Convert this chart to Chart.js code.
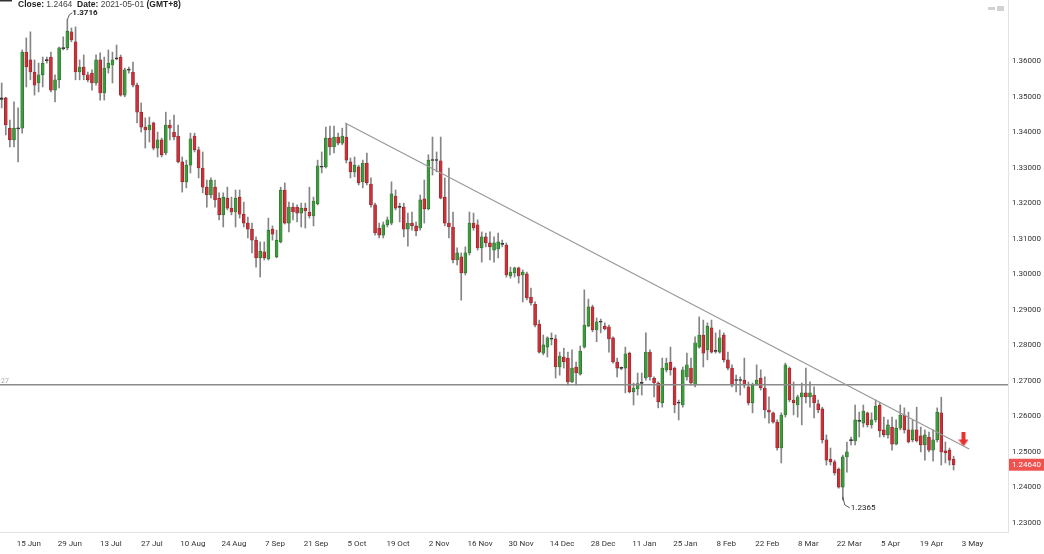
<!DOCTYPE html>
<html>
<head>
<meta charset="utf-8">
<script src="https://cdn.jsdelivr.net/npm/chart.js@4.4.1/dist/chart.umd.min.js"></script>
<style>
  html, body { margin: 0; padding: 0; background: #fff; }
  #wrap { width: 1044px; height: 554px; }
</style>
</head>
<body>
<div id="wrap"><canvas id="chart" width="1044" height="554"></canvas></div>
<script>
/* ===== Daily candles, one per trading day (index 0 = first candle on the left) ===== */
const opens = [
  1.3492,1.3496,1.3411,1.3378,1.3409,1.3411,1.3625,1.3603,1.3569,1.3538,
  1.3561,1.3601,1.3611,1.3518,1.3547,1.3635,1.3637,1.3682,1.3654,1.3569,
  1.3583,1.3561,1.3566,1.3538,1.3603,1.3510,1.3580,1.3589,1.3606,1.3611,
  1.3504,1.3574,1.3569,1.3532,1.3456,1.3414,1.3406,1.3426,1.3355,1.3378,
  1.3341,1.3420,1.3400,1.3389,1.3316,1.3260,1.3307,1.3389,1.3350,1.3299,
  1.3245,1.3223,1.3245,1.3214,1.3167,1.3214,1.3186,1.3175,1.3217,1.3169,
  1.3144,1.3127,1.3096,1.3046,1.3063,1.3043,1.3127,1.3049,1.3091,1.3237,
  1.3144,1.3189,1.3189,1.3172,1.3186,1.3175,1.3164,1.3198,1.3301,1.3302,
  1.3383,1.3358,1.3386,1.3369,1.3386,1.3316,1.3288,1.3302,1.3260,1.3313,
  1.3254,1.3195,1.3130,1.3110,1.3139,1.3144,1.3220,1.3190,1.3189,1.3127,
  1.3144,1.3136,1.3130,1.3212,1.3184,1.3320,1.3322,1.3319,1.3217,1.3144,
  1.3133,1.3040,1.3049,1.3004,1.3060,1.3144,1.3139,1.3074,1.3105,1.3088,
  1.3068,1.3071,1.3086,1.3082,1.2995,1.3004,1.3018,1.2998,1.3001,1.2936,
  1.2916,1.2860,1.2778,1.2795,1.2817,1.2818,1.2739,1.2767,1.2764,1.2697,
  1.2739,1.2719,1.2795,1.2854,1.2908,1.2843,1.2865,1.2854,1.2852,1.2821,
  1.2753,1.2737,1.2736,1.2778,1.2669,1.2677,1.2693,1.2708,1.2781,1.2708,
  1.2694,1.2638,1.2731,1.2753,1.2736,1.2637,1.2632,1.2711,1.2736,1.2688,
  1.2795,1.2829,1.2787,1.2849,1.2783,1.2781,1.2829,1.2759,1.2736,1.2701,
  1.2703,1.2702,1.2683,1.2638,1.2688,1.2708,1.2680,1.2618,1.2610,1.2584,
  1.2511,1.2604,1.2736,1.2646,1.2632,1.2655,1.2666,1.2655,1.2660,1.2635,
  1.2621,1.2534,1.2480,1.2472,1.2452,1.2401,1.2486,1.2532,1.2531,1.2588,
  1.2581,1.2610,1.2576,1.2590,1.2632,1.2562,1.2548,1.2570,1.2522,1.2567,
  1.2604,1.2562,1.2534,1.2562,1.2545,1.2520,1.2542,1.2505,1.2534,1.2610,
  1.2503,1.2505,1.2480
];
const highs = [
  1.3538,1.3498,1.3434,1.3485,1.3468,1.3631,1.3665,1.3682,1.3603,1.3594,
  1.3611,1.3611,1.3625,1.3561,1.3639,1.3668,1.3716,1.3693,1.3696,1.3603,
  1.3617,1.3569,1.3575,1.3617,1.3623,1.3611,1.3631,1.3625,1.3645,1.3617,
  1.3580,1.3583,1.3597,1.3538,1.3482,1.3440,1.3442,1.3428,1.3400,1.3383,
  1.3456,1.3434,1.3448,1.3420,1.3330,1.3321,1.3397,1.3397,1.3358,1.3344,
  1.3265,1.3271,1.3265,1.3229,1.3229,1.3245,1.3217,1.3237,1.3237,1.3203,
  1.3161,1.3144,1.3105,1.3091,1.3091,1.3158,1.3136,1.3124,1.3245,1.3257,
  1.3203,1.3200,1.3195,1.3200,1.3200,1.3245,1.3217,1.3321,1.3344,1.3414,
  1.3417,1.3417,1.3397,1.3411,1.3423,1.3327,1.3330,1.3307,1.3321,1.3341,
  1.3271,1.3200,1.3144,1.3147,1.3161,1.3260,1.3237,1.3200,1.3200,1.3172,
  1.3175,1.3147,1.3223,1.3265,1.3336,1.3386,1.3344,1.3386,1.3271,1.3299,
  1.3175,1.3074,1.3060,1.3077,1.3175,1.3172,1.3153,1.3119,1.3116,1.3119,
  1.3105,1.3116,1.3096,1.3088,1.3020,1.3020,1.3020,1.3012,1.3006,1.2961,
  1.2922,1.2871,1.2829,1.2824,1.2835,1.2829,1.2781,1.2792,1.2781,1.2787,
  1.2753,1.2798,1.2956,1.2930,1.2913,1.2877,1.2874,1.2863,1.2857,1.2824,
  1.2764,1.2739,1.2795,1.2781,1.2694,1.2722,1.2722,1.2835,1.2787,1.2711,
  1.2697,1.2764,1.2764,1.2795,1.2739,1.2646,1.2739,1.2778,1.2764,1.2824,
  1.2880,1.2871,1.2863,1.2871,1.2835,1.2843,1.2835,1.2781,1.2745,1.2716,
  1.2711,1.2764,1.2697,1.2694,1.2745,1.2731,1.2711,1.2655,1.2612,1.2590,
  1.2610,1.2750,1.2739,1.2697,1.2660,1.2694,1.2736,1.2697,1.2683,1.2646,
  1.2626,1.2548,1.2511,1.2477,1.2455,1.2491,1.2528,1.2542,1.2632,1.2612,
  1.2632,1.2612,1.2610,1.2646,1.2640,1.2598,1.2590,1.2598,1.2590,1.2632,
  1.2624,1.2612,1.2590,1.2626,1.2570,1.2562,1.2556,1.2562,1.2624,1.2654,
  1.2528,1.2511,1.2488
];
const lows = [
  1.3468,1.3392,1.3358,1.3358,1.3316,1.3397,1.3527,1.3547,1.3504,1.3513,
  1.3527,1.3594,1.3513,1.3485,1.3524,1.3631,1.3631,1.3654,1.3547,1.3547,
  1.3547,1.3541,1.3518,1.3532,1.3490,1.3490,1.3566,1.3538,1.3603,1.3501,
  1.3499,1.3566,1.3527,1.3426,1.3400,1.3355,1.3372,1.3350,1.3330,1.3330,
  1.3336,1.3378,1.3378,1.3313,1.3231,1.3243,1.3285,1.3344,1.3271,1.3229,
  1.3189,1.3215,1.3189,1.3153,1.3133,1.3181,1.3167,1.3133,1.3158,1.3133,
  1.3102,1.3060,1.3020,1.2992,1.3040,1.3040,1.3096,1.3046,1.3088,1.3141,
  1.3119,1.3153,1.3147,1.3133,1.3130,1.3158,1.3136,1.3195,1.3285,1.3299,
  1.3336,1.3341,1.3364,1.3364,1.3313,1.3271,1.3274,1.3251,1.3243,1.3251,
  1.3189,1.3110,1.3102,1.3102,1.3133,1.3139,1.3181,1.3147,1.3105,1.3079,
  1.3124,1.3108,1.3124,1.3144,1.3181,1.3279,1.3288,1.3212,1.3136,1.3102,
  1.3032,1.3026,1.2927,1.2998,1.3054,1.3124,1.3068,1.3034,1.3077,1.3040,
  1.3034,1.3046,1.3077,1.2992,1.2989,1.2992,1.2975,1.2922,1.2928,1.2913,
  1.2852,1.2778,1.2773,1.2767,1.2801,1.2708,1.2716,1.2736,1.2688,1.2695,
  1.2688,1.2716,1.2792,1.2852,1.2838,1.2810,1.2835,1.2843,1.2781,1.2750,
  1.2711,1.2731,1.2666,1.2666,1.2632,1.2660,1.2660,1.2702,1.2702,1.2655,
  1.2624,1.2626,1.2725,1.2716,1.2610,1.2590,1.2626,1.2702,1.2688,1.2683,
  1.2792,1.2739,1.2759,1.2778,1.2778,1.2778,1.2753,1.2731,1.2683,1.2669,
  1.2660,1.2680,1.2632,1.2610,1.2688,1.2674,1.2596,1.2581,1.2581,1.2505,
  1.2469,1.2598,1.2641,1.2604,1.2598,1.2576,1.2638,1.2626,1.2596,1.2610,
  1.2525,1.2463,1.2463,1.2435,1.2398,1.2365,1.2443,1.2520,1.2520,1.2542,
  1.2570,1.2570,1.2567,1.2584,1.2542,1.2542,1.2539,1.2505,1.2520,1.2562,
  1.2553,1.2525,1.2528,1.2528,1.2500,1.2477,1.2500,1.2474,1.2528,1.2463,
  1.2469,1.2463,1.2449
];
const closes = [
  1.3496,1.3420,1.3378,1.3411,1.3412,1.3625,1.3583,1.3569,1.3532,1.3561,
  1.3594,1.3603,1.3518,1.3547,1.3637,1.3637,1.3684,1.3659,1.3569,1.3583,
  1.3561,1.3547,1.3538,1.3603,1.3510,1.3580,1.3594,1.3603,1.3608,1.3504,
  1.3575,1.3576,1.3532,1.3456,1.3414,1.3406,1.3420,1.3355,1.3378,1.3336,
  1.3420,1.3411,1.3386,1.3316,1.3260,1.3307,1.3381,1.3350,1.3299,1.3245,
  1.3223,1.3265,1.3209,1.3167,1.3217,1.3186,1.3175,1.3214,1.3169,1.3144,
  1.3127,1.3096,1.3046,1.3065,1.3046,1.3124,1.3113,1.3096,1.3237,1.3144,
  1.3189,1.3175,1.3172,1.3186,1.3178,1.3164,1.3206,1.3305,1.3303,1.3383,
  1.3358,1.3386,1.3369,1.3389,1.3321,1.3288,1.3307,1.3257,1.3313,1.3257,
  1.3195,1.3116,1.3110,1.3139,1.3153,1.3226,1.3186,1.3188,1.3127,1.3144,
  1.3136,1.3122,1.3209,1.3184,1.3321,1.3322,1.3320,1.3214,1.3144,1.3133,
  1.3040,1.3060,1.3004,1.3060,1.3144,1.3130,1.3074,1.3105,1.3088,1.3077,
  1.3088,1.3091,1.3084,1.2998,1.3006,1.3018,1.2995,1.3006,1.2933,1.2919,
  1.2857,1.2781,1.2801,1.2821,1.2819,1.2739,1.2770,1.2753,1.2697,1.2736,
  1.2722,1.2784,1.2857,1.2908,1.2843,1.2866,1.2867,1.2846,1.2818,1.2753,
  1.2736,1.2735,1.2776,1.2669,1.2680,1.2692,1.2695,1.2781,1.2711,1.2694,
  1.2641,1.2736,1.2750,1.2731,1.2632,1.2639,1.2731,1.2745,1.2694,1.2807,
  1.2829,1.2778,1.2854,1.2781,1.2785,1.2821,1.2759,1.2736,1.2688,1.2703,
  1.2701,1.2688,1.2638,1.2688,1.2702,1.2680,1.2618,1.2612,1.2584,1.2511,
  1.2604,1.2745,1.2646,1.2638,1.2655,1.2666,1.2655,1.2666,1.2638,1.2618,
  1.2534,1.2477,1.2472,1.2441,1.2401,1.2486,1.2500,1.2534,1.2590,1.2586,
  1.2615,1.2576,1.2590,1.2629,1.2559,1.2548,1.2576,1.2522,1.2567,1.2604,
  1.2562,1.2528,1.2562,1.2531,1.2520,1.2548,1.2505,1.2534,1.2612,1.2500,
  1.2497,1.2477,1.2464
];

/* ===== Axes ===== */
const dateLabels = ["15 Jun","29 Jun","13 Jul","27 Jul","10 Aug","24 Aug","7 Sep","21 Sep",
  "5 Oct","19 Oct","2 Nov","16 Nov","30 Nov","14 Dec","28 Dec","11 Jan","25 Jan","8 Feb",
  "22 Feb","8 Mar","22 Mar","5 Apr","19 Apr","3 May"];
const dateTickIndex = [6.6,16.6,26.6,36.6,46.6,56.6,66.6,76.6,86.6,96.6,106.6,116.6,
  126.6,136.6,146.6,156.6,166.6,176.6,186.6,196.6,206.6,216.6,226.6,236.6];
const priceTicks = [1.23,1.24,1.25,1.26,1.27,1.28,1.29,1.30,1.31,1.32,1.33,1.34,1.35,1.36];

const X_MIN = -0.41, X_MAX = 245.26;
const Y_MIN = 1.22747, Y_MAX = 1.37716;

/* ===== Drawings ===== */
const levelPrice = 1.2689;
const trendLine = [{ x: 83.7, y: 1.34255 }, { x: 235.8, y: 1.25083 }];
const signalArrow = [{ x: 234.4, y: 1.2535 }];
const headerClose = "1.2464";
const headerDate = "2021-05-01";

const GREEN = "#3d9a3d", GREEN_EDGE = "#2a6b2a";
const RED = "#c9323a", RED_EDGE = "#8c1f24";
const DOJI = "#3a3a3a";

const isDoji = i => Math.abs(closes[i] - opens[i]) < 0.0004;
const bodies = opens.map((o, i) => ({ x: i, y: [Math.min(o, closes[i]), Math.max(o, closes[i])] }));
const wicks = opens.map((o, i) => ({ x: i, y: [lows[i], highs[i]] }));
const bodyFill = opens.map((o, i) => isDoji(i) ? DOJI : closes[i] >= o ? GREEN : RED);
const bodyEdge = opens.map((o, i) => isDoji(i) ? "#222" : closes[i] >= o ? GREEN_EDGE : RED_EDGE);

/* red down arrow used as point style */
const arrowImg = document.createElement("canvas");
arrowImg.width = 10; arrowImg.height = 14;
(function () {
  const a = arrowImg.getContext("2d");
  a.fillStyle = "#e8322f";
  a.fillRect(3, 0, 4, 8);
  a.beginPath(); a.moveTo(0, 7); a.lineTo(10, 7); a.lineTo(5, 14); a.closePath(); a.fill();
})();

const FONT = "Roboto, 'Liberation Sans', Arial, sans-serif";

const decor = {
  id: "decor",
  afterDatasetsDraw(chart) {
    const { ctx, scales: { x, y } } = chart;
    ctx.save();
    // extreme high label
    const hi = highs.indexOf(Math.max(...highs));
    const hx = x.getPixelForValue(hi), hy = y.getPixelForValue(highs[hi]);
    ctx.strokeStyle = "#333"; ctx.lineWidth = 0.8;
    ctx.beginPath(); ctx.moveTo(hx, hy); ctx.lineTo(hx + 2, hy - 5); ctx.lineTo(hx + 5, hy - 7); ctx.stroke();
    ctx.fillStyle = "#222"; ctx.font = "bold 8px " + FONT;
    ctx.textAlign = "left"; ctx.textBaseline = "middle";
    ctx.fillText(highs[hi].toFixed(4), hx + 5, hy - 7);
    // extreme low label
    const lo = lows.indexOf(Math.min(...lows));
    const lx = x.getPixelForValue(lo), ly = y.getPixelForValue(lows[lo]);
    ctx.beginPath(); ctx.moveTo(lx, ly - 3); ctx.lineTo(lx + 2, ly + 5); ctx.lineTo(lx + 7, ly + 8); ctx.stroke();
    ctx.font = "8px " + FONT;
    ctx.fillText(lows[lo].toFixed(4), lx + 8, ly + 8);
    // level tag at left
    ctx.fillStyle = "#aaa"; ctx.font = "7px " + FONT;
    ctx.fillText("27", 1, y.getPixelForValue(levelPrice) - 4);
    ctx.restore();
  },
  afterDraw(chart) {
    const { ctx, scales: { y } } = chart;
    ctx.save();
    // header
    let px = 18;
    const py = 5;
    ctx.textBaseline = "middle"; ctx.textAlign = "left";
    const parts = [["bold", "Close: ", "#222"], ["normal", headerClose, "#444"],
                   ["bold", "  Date: ", "#222"], ["normal", headerDate + " ", "#444"], ["bold", "(GMT+8)", "#222"]];
    parts.forEach(([w, t, c]) => {
      ctx.font = w + " 8.5px 'Liberation Sans', Arial, sans-serif";
      ctx.fillStyle = c;
      ctx.fillText(t, px, py);
      px += ctx.measureText(t).width;
    });
    ctx.fillStyle = "#333";
    ctx.fillRect(0, 0, 12, 1.5);
    // top-right icons
    ctx.fillStyle = "#d2d2d2";
    ctx.fillRect(988, 7, 7, 3);
    ctx.fillRect(997, 6, 7, 5);
    // last price tag
    const last = closes[closes.length - 1];
    const ty = y.getPixelForValue(last);
    ctx.fillStyle = "#ef5350";
    ctx.fillRect(y.left + 1, ty - 6, 1044 - y.left - 1, 12);
    ctx.fillStyle = "#fff"; ctx.font = "8px " + FONT;
    ctx.fillText(last.toFixed(5), y.left + 4, ty + 0.5);
    ctx.restore();
  }
};

new Chart(document.getElementById("chart"), {
  data: {
    datasets: [
      { type: "line", data: trendLine, borderColor: "#9a9a9a", borderWidth: 1.3, pointRadius: 0, order: 0 },
      { type: "line", data: [{ x: X_MIN, y: levelPrice }, { x: X_MAX, y: levelPrice }],
        borderColor: "#8a8a8a", borderWidth: 1.3, pointRadius: 0, order: 0 },
      { type: "scatter", data: signalArrow, pointStyle: arrowImg, pointRadius: 6, order: 0 },
      { type: "bar", data: bodies, backgroundColor: bodyFill, borderColor: bodyEdge, borderWidth: 0.6,
        borderSkipped: false, barThickness: 3, minBarLength: 1, grouped: false, order: 1 },
      { type: "bar", data: wicks, backgroundColor: "#858585", barThickness: 1, grouped: false, order: 2 }
    ]
  },
  options: {
    responsive: false,
    animation: false,
    events: [],
    devicePixelRatio: 1,
    layout: { padding: 0, autoPadding: false },
    plugins: { legend: { display: false }, tooltip: { enabled: false } },
    scales: {
      x: {
        type: "linear", min: X_MIN, max: X_MAX, offset: false,
        grid: { display: false, drawTicks: false },
        border: { display: true, color: "#e3e3e3" },
        ticks: {
          padding: 7, color: "#333", font: { family: FONT, size: 8 }, maxRotation: 0, autoSkip: false,
          callback: v => { const k = dateTickIndex.indexOf(v); return k >= 0 ? dateLabels[k] : ""; }
        },
        afterBuildTicks: s => { s.ticks = dateTickIndex.map(v => ({ value: v })); },
        afterFit: s => { s.height = 22; s.paddingLeft = 0; s.paddingRight = 0; }
      },
      y: {
        type: "linear", position: "right", min: Y_MIN, max: Y_MAX,
        grid: { display: false, drawTicks: false },
        border: { display: true, color: "#e3e3e3" },
        ticks: { padding: 4, color: "#333", font: { family: FONT, size: 8 }, callback: v => v.toFixed(5) },
        afterBuildTicks: s => { s.ticks = priceTicks.map(v => ({ value: v })); },
        afterFit: s => { s.width = 36; s.paddingTop = 0; s.paddingBottom = 0; }
      }
    }
  },
  plugins: [decor]
});
</script>
</body>
</html>
